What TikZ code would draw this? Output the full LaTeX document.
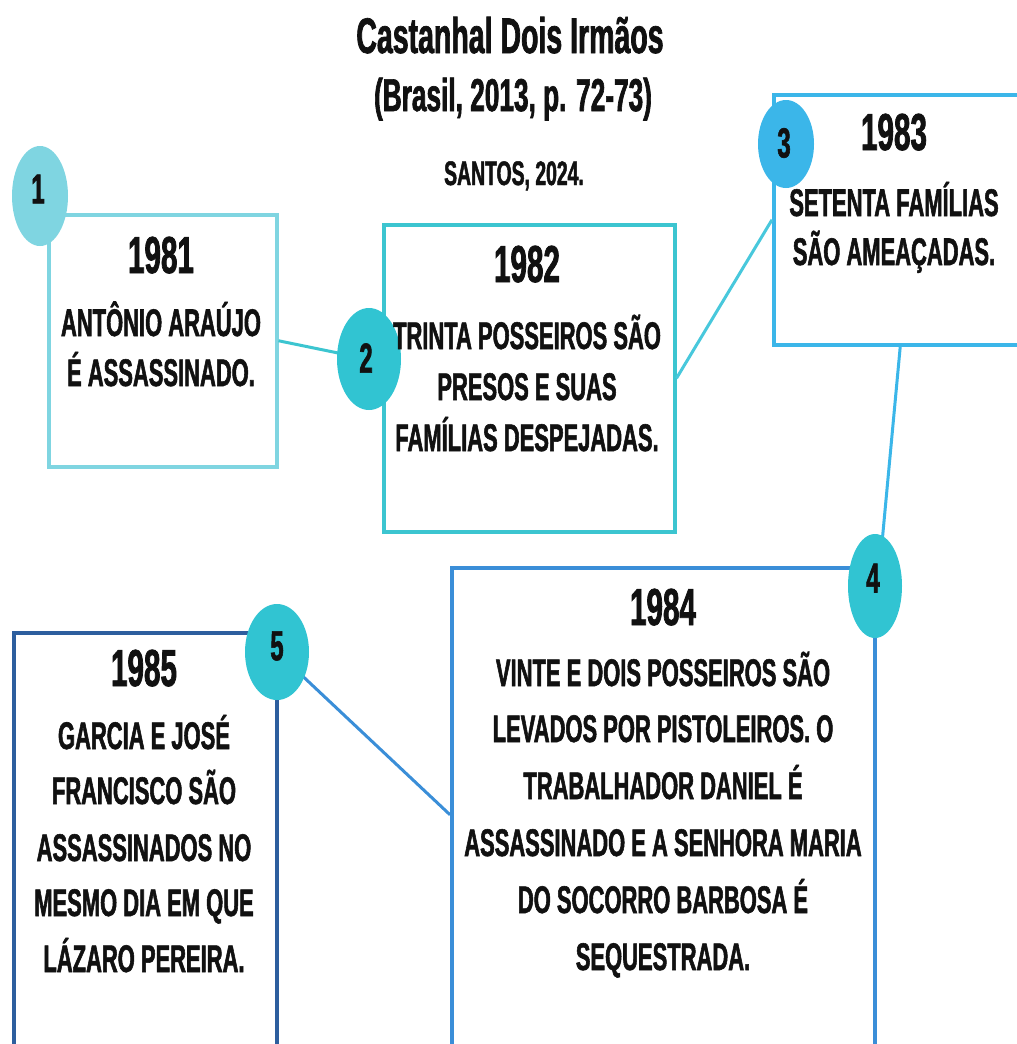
\documentclass[tikz,border=0pt]{standalone}
\usepackage{fontspec}
\setmainfont{Liberation Sans}[FakeStretch=0.57,FakeBold=1.4,BoldFeatures={FakeStretch=0.57,FakeBold=1.4}]
\usetikzlibrary{shapes.geometric}
\definecolor{cA}{HTML}{7FD5E1}
\definecolor{cB}{HTML}{3CC5D0}
\definecolor{cL}{HTML}{48C8DC}
\definecolor{cC}{HTML}{3BB6E9}
\definecolor{cD}{HTML}{3A8ED8}
\definecolor{cE}{HTML}{2D5E9E}
\definecolor{cT}{HTML}{31C4D2}
\definecolor{ink}{HTML}{111111}
\begin{document}
\begin{tikzpicture}[x=1pt,y=-1pt,
  frame/.style={draw, fill=white, line width=3.5pt, inner sep=0pt, anchor=north west},
  badge/.style={ellipse, inner sep=0pt, draw=none},
  num/.style={inner sep=0pt, text=ink, font=\bfseries\fontsize{42}{42}\selectfont},
  link/.style={line width=3pt},
  yr/.style={anchor=base, text=ink, inner sep=0pt, font=\bfseries\fontsize{52}{52}\selectfont},
  body/.style={anchor=base, text=ink, inner sep=0pt, font=\bfseries\fontsize{38.5}{38.5}\selectfont},
  head/.style={anchor=base, text=ink, inner sep=0pt},
]
\useasboundingbox (0,0) rectangle (1017,1044);
\fill[white] (0,0) rectangle (1017,1044);

% titles
\node[head, font=\bfseries\fontsize{50}{50}\selectfont] (title) at (510,53) {Castanhal Dois Irmãos};
\node[head, font=\bfseries\fontsize{46}{46}\selectfont] (sub) at (513,111) {(Brasil, 2013, p. 72-73)};
\node[head, font=\bfseries\fontsize{34}{34}\selectfont] (src) at (514,185) {SANTOS, 2024.};

% boxes
\node[frame, draw=cA, minimum width=228pt, minimum height=252pt] (b1) at (47,213) {};
\node[frame, draw=cB, minimum width=291pt, minimum height=307pt] (b2) at (382,223) {};
\node[frame, draw=cC, minimum width=253pt, minimum height=250pt] (b3) at (772,93) {};
\node[frame, draw=cD, minimum width=423pt, minimum height=494pt] (b4) at (450,566) {};
\node[frame, draw=cE, minimum width=263pt, minimum height=429pt] (b5) at (12,631) {};

% connectors
\draw[link, cB] (b1.east) -- (377,361) coordinate (e12);
\draw[link, cL] (b2.east) -- (b3.west);
\draw[link, cC] (b3.south) -- (878,586) coordinate (e34);
\draw[link, cD] (277,652) coordinate (s54) -- (b4.west);

% badges
\node[badge, fill=cA, minimum width=56pt, minimum height=100pt] (c1) at (40,196) {};
\node[badge, fill=cT, minimum width=64pt, minimum height=102pt] (c2) at (369,359) {};
\node[badge, fill=cC, minimum width=56pt, minimum height=88pt] (c3) at (786,144) {};
\node[badge, fill=cT, minimum width=54pt, minimum height=104pt] (c4) at (875,586) {};
\node[badge, fill=cT, minimum width=64pt, minimum height=96pt] (c5) at (277,652) {};
\node[num] (n1) at (38,189) {1};
\node[num] (n2) at (366,358) {2};
\node[num] (n3) at (784,143) {3};
\node[num] (n4) at (873,578) {4};
\node[num] (n5) at (277,646) {5};

% box 1
\node[yr] (y1) at (161,273) {1981};
\node[body] (t1a) at (161,336) {ANTÔNIO ARAÚJO};
\node[body] (t1b) at (161,386) {É ASSASSINADO.};

% box 2
\node[yr] (y2) at (527,282) {1982};
\node[body] (t2a) at (527,349) {TRINTA POSSEIROS SÃO};
\node[body] (t2b) at (527,400) {PRESOS E SUAS};
\node[body] (t2c) at (527,451) {FAMÍLIAS DESPEJADAS.};

% box 3
\node[yr] (y3) at (894,150) {1983};
\node[body] (t3a) at (894,216) {SETENTA FAMÍLIAS};
\node[body] (t3b) at (894,265) {SÃO AMEAÇADAS.};

% box 4
\node[yr] (y4) at (663,625) {1984};
\node[body] (t4a) at (663,686) {VINTE E DOIS POSSEIROS SÃO};
\node[body] (t4b) at (663,742) {LEVADOS POR PISTOLEIROS. O};
\node[body] (t4c) at (663,799) {TRABALHADOR DANIEL É};
\node[body] (t4d) at (663,856) {ASSASSINADO E A SENHORA MARIA};
\node[body] (t4e) at (663,913) {DO SOCORRO BARBOSA É};
\node[body] (t4f) at (663,970) {SEQUESTRADA.};

% box 5
\node[yr] (y5) at (144,686) {1985};
\node[body] (t5a) at (144,749) {GARCIA E JOSÉ};
\node[body] (t5b) at (144,804) {FRANCISCO SÃO};
\node[body] (t5c) at (144,861) {ASSASSINADOS NO};
\node[body] (t5d) at (144,916) {MESMO DIA EM QUE};
\node[body] (t5e) at (144,972) {LÁZARO PEREIRA.};
\end{tikzpicture}
\end{document}
